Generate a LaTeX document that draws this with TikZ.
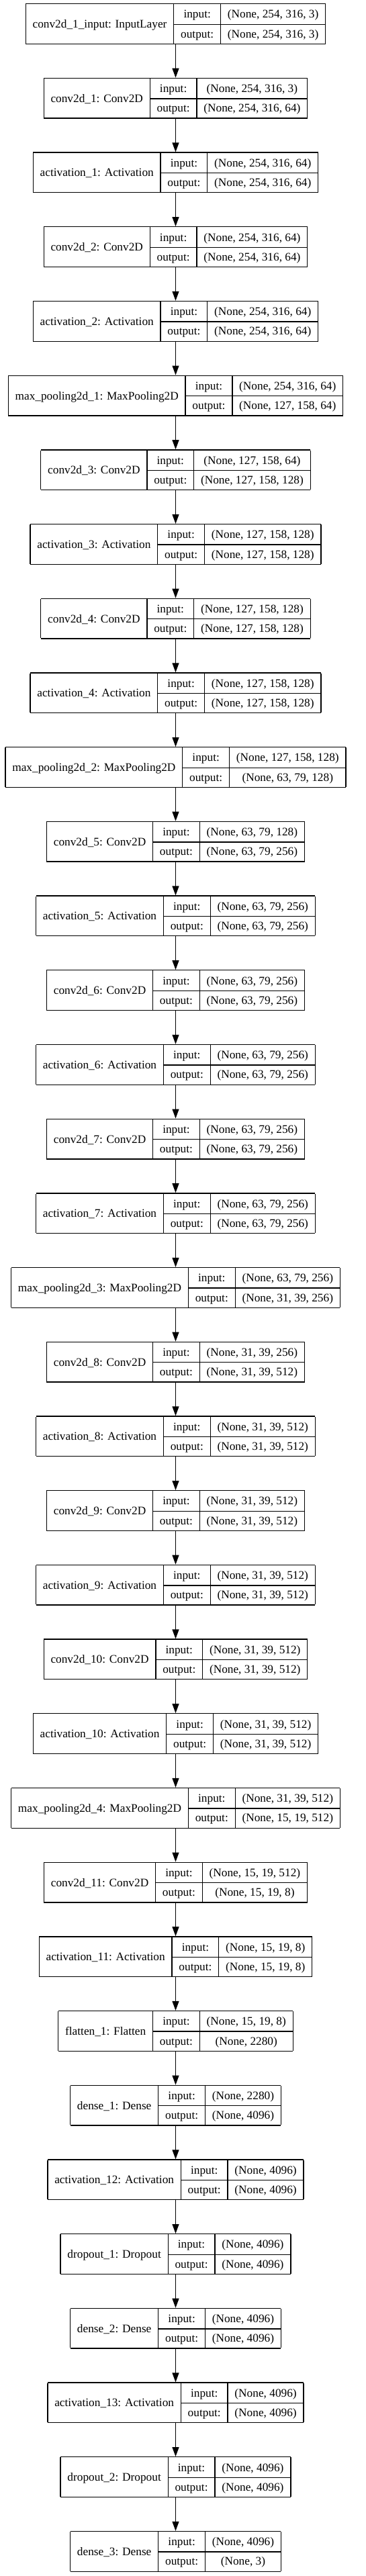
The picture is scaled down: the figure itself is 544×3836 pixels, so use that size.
\documentclass[tikz,border=0pt]{standalone}
\usepackage{fontspec}
\setmainfont{Liberation Serif}
\usepackage{tikz}
\usetikzlibrary{arrows.meta,positioning}
\tikzset{>=latex}

\newcommand\boxfont{\fontsize{17.3pt}{20pt}\selectfont}
\setlength\tabcolsep{10.35pt}
\setlength\arrayrulewidth{1.3pt}

\tikzset{
  record/.style={inner sep=0pt, outer sep=0pt, font=\boxfont},
  flow/.style={draw=black, line width=1.3pt, -{Triangle[length=14pt,width=10pt]}},
}

% one record: label | input:/output: | shapes
\newcommand\rec[3]{%
  \begin{tabular}{|c|c|c|}\hline
    \raisebox{-14.6pt}[0pt][0pt]{#1} & \rule[-8.6pt]{0pt}{29.2pt}input: & #2 \\ \cline{2-3}
     & \rule[-8.6pt]{0pt}{29.2pt}output: & #3 \\ \hline
  \end{tabular}}

% #1 name, #2 layer label, #3 input shape, #4 output shape, #5 row
\newcommand\layer[5]{%
  \node[record] (#1) at (\cx, {\yTop+(#5-1)*\pitch+30.5}) {\rec{#2}{#3}{#4}};
}

\begin{document}
\begin{tikzpicture}[x=1pt, y=-1pt]
  % --- Definitions ---
  \def\cx{261.5}    % centre line of the chain
  \def\yTop{5}      % top of the first record
  \def\pitch{110.7} % distance from one record to the next

  \useasboundingbox (0,0) rectangle (544,3836);

  % --- 1. Input and first block ---
  \layer{inp}{conv2d\_1\_input: InputLayer}{(None, 254, 316, 3)}{(None, 254, 316, 3)}{1}
  \layer{conv1}{conv2d\_1: Conv2D}{(None, 254, 316, 3)}{(None, 254, 316, 64)}{2}
  \layer{act1}{activation\_1: Activation}{(None, 254, 316, 64)}{(None, 254, 316, 64)}{3}
  \layer{conv2}{conv2d\_2: Conv2D}{(None, 254, 316, 64)}{(None, 254, 316, 64)}{4}
  \layer{act2}{activation\_2: Activation}{(None, 254, 316, 64)}{(None, 254, 316, 64)}{5}
  \layer{pool1}{max\_pooling2d\_1: MaxPooling2D}{(None, 254, 316, 64)}{(None, 127, 158, 64)}{6}

  % --- 2. Second block ---
  \layer{conv3}{conv2d\_3: Conv2D}{(None, 127, 158, 64)}{(None, 127, 158, 128)}{7}
  \layer{act3}{activation\_3: Activation}{(None, 127, 158, 128)}{(None, 127, 158, 128)}{8}
  \layer{conv4}{conv2d\_4: Conv2D}{(None, 127, 158, 128)}{(None, 127, 158, 128)}{9}
  \layer{act4}{activation\_4: Activation}{(None, 127, 158, 128)}{(None, 127, 158, 128)}{10}
  \layer{pool2}{max\_pooling2d\_2: MaxPooling2D}{(None, 127, 158, 128)}{(None, 63, 79, 128)}{11}

  % --- 3. Third block ---
  \layer{conv5}{conv2d\_5: Conv2D}{(None, 63, 79, 128)}{(None, 63, 79, 256)}{12}
  \layer{act5}{activation\_5: Activation}{(None, 63, 79, 256)}{(None, 63, 79, 256)}{13}
  \layer{conv6}{conv2d\_6: Conv2D}{(None, 63, 79, 256)}{(None, 63, 79, 256)}{14}
  \layer{act6}{activation\_6: Activation}{(None, 63, 79, 256)}{(None, 63, 79, 256)}{15}
  \layer{conv7}{conv2d\_7: Conv2D}{(None, 63, 79, 256)}{(None, 63, 79, 256)}{16}
  \layer{act7}{activation\_7: Activation}{(None, 63, 79, 256)}{(None, 63, 79, 256)}{17}
  \layer{pool3}{max\_pooling2d\_3: MaxPooling2D}{(None, 63, 79, 256)}{(None, 31, 39, 256)}{18}

  % --- 4. Fourth block ---
  \layer{conv8}{conv2d\_8: Conv2D}{(None, 31, 39, 256)}{(None, 31, 39, 512)}{19}
  \layer{act8}{activation\_8: Activation}{(None, 31, 39, 512)}{(None, 31, 39, 512)}{20}
  \layer{conv9}{conv2d\_9: Conv2D}{(None, 31, 39, 512)}{(None, 31, 39, 512)}{21}
  \layer{act9}{activation\_9: Activation}{(None, 31, 39, 512)}{(None, 31, 39, 512)}{22}
  \layer{conv10}{conv2d\_10: Conv2D}{(None, 31, 39, 512)}{(None, 31, 39, 512)}{23}
  \layer{act10}{activation\_10: Activation}{(None, 31, 39, 512)}{(None, 31, 39, 512)}{24}
  \layer{pool4}{max\_pooling2d\_4: MaxPooling2D}{(None, 31, 39, 512)}{(None, 15, 19, 512)}{25}

  % --- 5. Head ---
  \layer{conv11}{conv2d\_11: Conv2D}{(None, 15, 19, 512)}{(None, 15, 19, 8)}{26}
  \layer{act11}{activation\_11: Activation}{(None, 15, 19, 8)}{(None, 15, 19, 8)}{27}
  \layer{flat1}{flatten\_1: Flatten}{(None, 15, 19, 8)}{(None, 2280)}{28}
  \layer{dense1}{dense\_1: Dense}{(None, 2280)}{(None, 4096)}{29}
  \layer{act12}{activation\_12: Activation}{(None, 4096)}{(None, 4096)}{30}
  \layer{drop1}{dropout\_1: Dropout}{(None, 4096)}{(None, 4096)}{31}
  \layer{dense2}{dense\_2: Dense}{(None, 4096)}{(None, 4096)}{32}
  \layer{act13}{activation\_13: Activation}{(None, 4096)}{(None, 4096)}{33}
  \layer{drop2}{dropout\_2: Dropout}{(None, 4096)}{(None, 4096)}{34}
  \layer{dense3}{dense\_3: Dense}{(None, 4096)}{(None, 3)}{35}

  % --- 6. Connections ---
  \foreach \a/\b in {inp/conv1, conv1/act1, act1/conv2, conv2/act2, act2/pool1,
      pool1/conv3, conv3/act3, act3/conv4, conv4/act4, act4/pool2,
      pool2/conv5, conv5/act5, act5/conv6, conv6/act6, act6/conv7, conv7/act7, act7/pool3,
      pool3/conv8, conv8/act8, act8/conv9, conv9/act9, act9/conv10, conv10/act10, act10/pool4,
      pool4/conv11, conv11/act11, act11/flat1, flat1/dense1, dense1/act12, act12/drop1,
      drop1/dense2, dense2/act13, act13/drop2, drop2/dense3}
    \draw[flow] (\a) -- (\b);
\end{tikzpicture}
\end{document}
